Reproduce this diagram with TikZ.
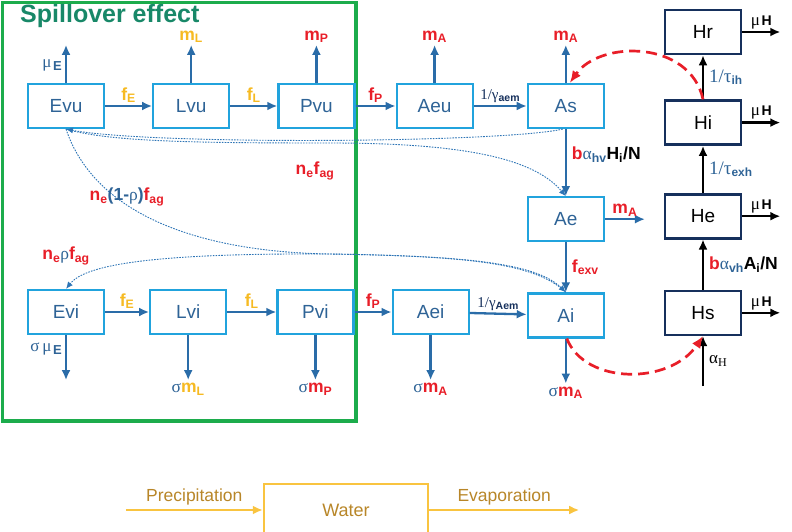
\documentclass[tikz,border=0pt]{standalone}
\usepackage{fontspec}
\setmainfont{Liberation Sans}
\newfontfamily\grk{Liberation Serif}
\usepackage{xcolor}
\usetikzlibrary{arrows.meta, positioning, calc}

\definecolor{boxblue}{RGB}{33,163,221}
\definecolor{txtblue}{RGB}{46,99,150}
\definecolor{arrblue}{RGB}{42,108,168}
\definecolor{dotblue}{RGB}{46,117,182}
\definecolor{labred}{RGB}{232,30,40}
\definecolor{labyel}{RGB}{246,186,34}
\definecolor{hnavy}{RGB}{22,48,92}
\definecolor{frgreen}{RGB}{28,172,76}
\definecolor{ttlgreen}{RGB}{24,136,104}
\definecolor{wyel}{RGB}{249,196,64}
\definecolor{wtxt}{RGB}{184,134,40}

\newcommand{\lab}{\fontsize{17.5}{20}\selectfont\bfseries}
\newcommand{\sbs}[1]{\textsubscript{#1}}

\tikzset{
  vbox/.style = {
    rectangle, draw=boxblue, line width=2.2pt,
    minimum width=76pt, minimum height=44pt,
    text=txtblue, font=\fontsize{19}{22}\selectfont, inner sep=2pt
  },
  hbox/.style = {
    rectangle, draw=hnavy, line width=2.6pt,
    minimum width=76pt, minimum height=44pt,
    font=\fontsize{19}{22}\selectfont, inner sep=2pt
  },
  wbox/.style = {
    rectangle, draw=wyel, line width=2.4pt,
    minimum width=164pt, minimum height=52pt,
    text=wtxt, font=\fontsize{18}{22}\selectfont
  },
  ttl/.style  = {anchor=west, inner sep=0pt, text=ttlgreen,
    font=\fontsize{25}{28}\selectfont\bfseries},
  arr/.style  = {-{Latex[length=10pt,width=9pt]}, line width=2.3pt, draw=arrblue},
  harr/.style = {-{Latex[length=10pt,width=9pt]}, line width=2.3pt, draw=black},
  darr/.style = {-{Latex[length=7pt,width=6pt]}, line width=0.9pt, draw=dotblue,
    dash pattern=on 1.6pt off 1.2pt},
  rarr/.style = {-{Latex[length=12pt,width=10pt]}, line width=2.7pt, draw=labred,
    dash pattern=on 11pt off 6pt},
  warr/.style = {-{Latex[length=10pt,width=9pt]}, line width=2.4pt, draw=wyel}
}

\begin{document}
\begin{tikzpicture}[
  x=1pt, y=-1pt,
  every node/.style={inner sep=2pt},
  wlab/.style={text=wtxt, font=\fontsize{17.5}{20}\selectfont}
]
\useasboundingbox (0,0) rectangle (792,532);
\clip (0,0) rectangle (792,532);

%% Spillover frame
\draw[frgreen, line width=3.2pt] (2.5,2.5) rectangle (356,421);
\node[ttl] (spill) at (20,16) {Spillover effect};

%% Row 1: uninfected
\node[vbox] (Evu) at (66,106) {Evu};
\node[vbox, right=47pt of Evu] (Lvu) {Lvu};
\node[vbox, right=47pt of Lvu] (Pvu) {Pvu};
\node[vbox, right=40pt of Pvu] (Aeu) {Aeu};
\node[vbox, right=53pt of Aeu] (As)  {As};

%% Adult infection
\node[vbox, below=67pt of As] (Ae) {Ae};
\node[vbox, below=50pt of Ae] (Ai) {Ai};

%% Row 2: infected
\node[vbox] (Evi) at (66,312) {Evi};
\node[vbox, right=44pt of Evi] (Lvi) {Lvi};
\node[vbox, right=49pt of Lvi] (Pvi) {Pvi};
\node[vbox, right=37pt of Pvi] (Aei) {Aei};

%% Hosts
\node[hbox] (Hr) at (703,32) {Hr};
\node[hbox, below=44pt of Hr] (Hi) {Hi};
\node[hbox, below=47pt of Hi] (He) {He};
\node[hbox, below=50pt of He] (Hs) {Hs};

%% Water
\node[wbox] (wat) at (346,510) {Water};

%% free ends
\coordinate[above=38pt of Evu] (Evu-o);
\coordinate[above=38pt of Lvu] (Lvu-o);
\coordinate[above=38pt of Pvu] (Pvu-o);
\coordinate[above=38pt of Aeu] (Aeu-o);
\coordinate[above=38pt of As]  (As-o);
\coordinate[right=40pt of Ae]  (Ae-o);
\coordinate[below=45pt of Evi] (Evi-o);
\coordinate[below=45pt of Lvi] (Lvi-o);
\coordinate[below=45pt of Pvi] (Pvi-o);
\coordinate[below=45pt of Aei] (Aei-o);
\coordinate[below=45pt of Ai]  (Ai-o);
\coordinate[right=38pt of Hr]  (Hr-o);
\coordinate[right=38pt of Hi]  (Hi-o);
\coordinate[right=38pt of He]  (He-o);
\coordinate[right=38pt of Hs]  (Hs-o);
\coordinate[below=50pt of Hs]  (Hs-i);
\coordinate[left=137pt of wat] (rain);
\coordinate[right=150pt of wat] (evap);

%% Row 1 arrows
\draw[arr] (Evu)--(Evu-o) node[pos=0.45,left=1pt,text=txtblue]
  {{\fontsize{17}{20}\grk μ}\,\raisebox{-3pt}{\fontsize{13}{15}\selectfont\bfseries E}};
\draw[arr] (Lvu)--(Lvu-o) node[above=1pt,inner sep=0pt,text=labyel]{\lab m\sbs{L}};
\draw[arr] (Pvu)--(Pvu-o) node[above=1pt,inner sep=0pt,text=labred]{\lab m\sbs{P}};
\draw[arr] (Aeu)--(Aeu-o) node[above=1pt,inner sep=0pt,text=labred]{\lab m\sbs{A}};
\draw[arr] (As)--(As-o)   node[above=1pt,inner sep=0pt,text=labred]{\lab m\sbs{A}};
\draw[arr] (Evu)--(Lvu) node[midway,above=0pt,text=labyel]{\lab f\sbs{E}};
\draw[arr] (Lvu)--(Pvu) node[midway,above=0pt,text=labyel]{\lab f\sbs{L}};
\draw[arr] (Pvu)--(Aeu) node[midway,above=0pt,text=labred]{\lab f\sbs{P}};
\draw[arr] (Aeu)--(As) node[midway,above=0pt,text=hnavy]
  {{\fontsize{15}{18}\grk 1/γ}{\fontsize{15}{18}\selectfont\bfseries\sbs{aem}}};

%% Adult infection arrows
\draw[arr] (As)--(Ae) node[pos=0.38,right=3pt]
  {\lab\textcolor{labred}{b}{\grk\mdseries\textcolor{txtblue}{α}}\textcolor{txtblue}{\sbs{hv}}H\sbs{i}/N};
\draw[arr] (Ae)--(Ae-o) node[midway,above=0pt,text=labred]{\lab m\sbs{A}};
\draw[arr] (Ae)--(Ai) node[midway,right=3pt,text=labred]{\lab f\sbs{exv}};

%% Row 2 arrows
\draw[arr] (Evi)--(Evi-o) node[pos=0.3,left=1pt,text=txtblue]
  {{\fontsize{17}{20}\grk σ\,μ}\,\raisebox{-3pt}{\fontsize{13}{15}\selectfont\bfseries E}};
\draw[arr] (Lvi)--(Lvi-o) node[below=0pt]
  {\lab{\grk\mdseries\textcolor{txtblue}{σ}}\textcolor{labyel}{m\sbs{L}}};
\draw[arr] (Pvi)--(Pvi-o) node[below=0pt]
  {\lab{\grk\mdseries\textcolor{txtblue}{σ}}\textcolor{labred}{m\sbs{P}}};
\draw[arr] (Aei)--(Aei-o) node[below=0pt]
  {\lab{\grk\mdseries\textcolor{txtblue}{σ}}\textcolor{labred}{m\sbs{A}}};
\draw[arr] (Ai)--(Ai-o) node[below=0pt]
  {\lab{\grk\mdseries\textcolor{txtblue}{σ}}\textcolor{labred}{m\sbs{A}}};
\draw[arr] (Evi)--(Lvi) node[midway,above=0pt,text=labyel]{\lab f\sbs{E}};
\draw[arr] (Lvi)--(Pvi) node[midway,above=0pt,text=labyel]{\lab f\sbs{L}};
\draw[arr] (Pvi)--(Aei) node[midway,above=0pt,text=labred]{\lab f\sbs{P}};
\draw[arr] (Aei)--(Ai) node[midway,above=0pt,text=hnavy]
  {{\fontsize{15}{18}\grk 1/γ}{\fontsize{15}{18}\selectfont\bfseries\sbs{Aem}}};

%% Egg laying (dotted)
\draw[darr] ([xshift=-3pt]As.south) .. controls (500,143) and (150,145) .. (Evu.south);
\draw[darr] (Evu.south) .. controls (110,142) and (200,143) .. (330,143)
  .. controls (470,143) and (535,160) .. (Ae.north);
\draw[darr] (Evu.south) .. controls (95,215) and (200,252) .. (330,254)
  .. controls (460,256) and (535,262) .. (Ai.north);
\draw[darr] (Ai.north) .. controls (535,262) and (460,256) .. (330,254)
  .. controls (150,253) and (85,265) .. (Evi.north);
\node[text=labred] (nf) at (315,171) {\lab n\sbs{e}f\sbs{ag}};
\node (nrf) at (127,197)
  {\lab\textcolor{labred}{n\sbs{e}}\textcolor{txtblue}{(1-{\grk\mdseries ρ})}\textcolor{labred}{f\sbs{ag}}};
\node (nrho) at (66,256)
  {\lab\textcolor{labred}{n\sbs{e}}{\grk\mdseries\textcolor{txtblue}{ρ}}\textcolor{labred}{f\sbs{ag}}};

%% Host arrows
\draw[harr] (Hr)--(Hr-o) node[midway,above=0pt]
  {{\fontsize{17}{18}\grk μ}\,{\fontsize{14}{15}\selectfont\bfseries H}};
\draw[harr] (Hi)--(Hi-o) node[midway,above=0pt]
  {{\fontsize{17}{18}\grk μ}\,{\fontsize{14}{15}\selectfont\bfseries H}};
\draw[harr] (He)--(He-o) node[midway,above=0pt]
  {{\fontsize{17}{18}\grk μ}\,{\fontsize{14}{15}\selectfont\bfseries H}};
\draw[harr] (Hs)--(Hs-o) node[midway,above=0pt]
  {{\fontsize{17}{18}\grk μ}\,{\fontsize{14}{15}\selectfont\bfseries H}};
\draw[harr] (Hi)--(Hr) node[midway,right=3pt,text=txtblue]
  {{\fontsize{19}{22}\grk 1/τ}{\fontsize{17}{20}\selectfont\bfseries\sbs{ih}}};
\draw[harr] (He)--(Hi) node[midway,right=3pt,text=txtblue]
  {{\fontsize{19}{22}\grk 1/τ}{\fontsize{17}{20}\selectfont\bfseries\sbs{exh}}};
\draw[harr] (Hs)--(He) node[midway,right=3pt]
  {\lab\textcolor{labred}{b}{\grk\mdseries\textcolor{txtblue}{α}}\textcolor{txtblue}{\sbs{vh}}A\sbs{i}/N};
\draw[harr] (Hs-i)--(Hs) node[midway,right=3pt]
  {{\fontsize{17}{20}\grk α}\raisebox{-3pt}{\fontsize{12}{14}\grk H}};

%% Transmission (red dashed)
\draw[rarr] (Hi.north) .. controls (690,40) and (600,40) .. ([xshift=4pt]As.north);
\draw[rarr] ([xshift=1pt]Ai.south) .. controls (585,385) and (670,385) .. (Hs.south);

%% Water
\draw[warr] (rain)--(wat) node[midway,above=2pt,wlab]{Precipitation};
\draw[warr] (wat)--(evap) node[midway,above=2pt,wlab]{Evaporation};

\end{tikzpicture}
\end{document}
